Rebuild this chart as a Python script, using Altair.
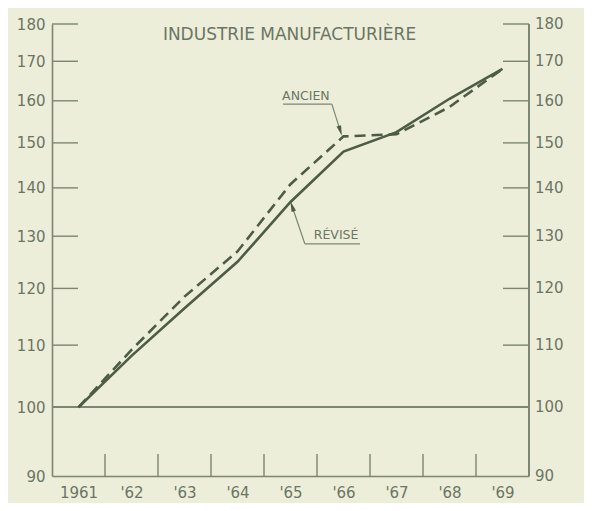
import altair as alt
import pandas as pd

# ---- data ----
years = [1961, 1962, 1963, 1964, 1965, 1966, 1967, 1968, 1969]
revise = [100.0, 108.2, 116.4, 125.0, 137.0, 148.0, 152.5, 160.5, 168.0]
ancien = [100.0, 109.2, 118.5, 127.0, 140.8, 151.5, 152.0, 158.5, 168.0]
year_labels = ["1961", "'62", "'63", "'64", "'65", "'66", "'67", "'68", "'69"]

y_ticks = [90, 100, 110, 120, 130, 140, 150, 160, 170, 180]
inner_ticks = [110, 120, 130, 140, 150, 160, 170, 180]
x_bounds = [1961.5, 1962.5, 1963.5, 1964.5, 1965.5, 1966.5, 1967.5, 1968.5]

title_text = ["INDUSTRIE MANUFACTURIÈRE"]

# annotations (data coordinates)
ann_text = ["ANCIEN", "RÉVISÉ"]
ann_x = [1965.29, 1965.86]
ann_y = [160.3, 129.4]
ul_x1 = [1964.86, 1965.27]
ul_x2 = [1965.78, 1966.31]
ul_y = [159.2, 128.5]
ld_x2 = [1965.94, 1965.03]
ld_y2 = [152.8, 136.1]
arrow_angle = [343, 161]

# ---- styling ----
BG = "#ECEEDA"
INK = "#4E5B45"
AXC = "#7C8672"
TXT = "#6C7563"
FONT = "DejaVu Sans"
W, H = 477, 452

xscale = alt.Scale(domain=[1960.5, 1969.5], nice=False, zero=False)
yscale = alt.Scale(type="log", domain=[90, 180], nice=False)

label_map = "{" + ",".join(f"'{y}': \"{l}\"" for y, l in zip(years, year_labels)) + "}"
xaxis = alt.Axis(values=years, title=None, ticks=False, grid=False,
                 domainColor=AXC, domainWidth=1.6,
                 labelExpr=f"{label_map}[toString(datum.value)]",
                 labelFont=FONT, labelFontSize=15, labelColor=TXT,
                 labelPadding=9, labelBaseline="top")
yaxis = alt.Axis(values=y_ticks, title=None, ticks=False, grid=False,
                 domainColor=AXC, domainWidth=1.6,
                 labelFont=FONT, labelFontSize=15, labelColor=TXT,
                 labelPadding=7, format="d")


def X(f):
    return alt.X(f, type="quantitative", scale=xscale, axis=xaxis)


def X2(f):
    return alt.X2(f)


def Y(f):
    return alt.Y(f, type="quantitative", scale=yscale, axis=yaxis)


df_rev = pd.DataFrame({"year": years, "value": revise})
df_anc = pd.DataFrame({"year": years, "value": ancien})
df_yt = pd.DataFrame({"v": y_ticks})
df_inner = pd.DataFrame({"v": inner_ticks})
df_xb = pd.DataFrame({"xb": x_bounds})
df_title = pd.DataFrame({"t": title_text})
df_ann = pd.DataFrame({"t": ann_text, "x": ann_x, "y": ann_y,
                       "ux1": ul_x1, "ux2": ul_x2, "uy": ul_y,
                       "lx2": ld_x2, "ly2": ld_y2, "ang": arrow_angle})

baseline = alt.Chart(df_rev).mark_rule(color=AXC, strokeWidth=1.6).encode(
    y=alt.datum(100, scale=yscale, axis=yaxis))

left_ticks = alt.Chart(df_inner).mark_rule(color=AXC, strokeWidth=1.4).encode(
    y=Y("v"), x=alt.value(0), x2=alt.value(26))
right_ticks = alt.Chart(df_inner).mark_rule(color=AXC, strokeWidth=1.4).encode(
    y=Y("v"), x=alt.value(W - 26), x2=alt.value(W))
right_line = alt.Chart(df_inner).mark_rule(color=AXC, strokeWidth=1.6).encode(
    x=alt.value(W), y=alt.value(0), y2=alt.value(H))
right_labels = alt.Chart(df_yt).mark_text(
    align="left", baseline="middle", font=FONT, fontSize=15, color=TXT
).encode(y=Y("v"), x=alt.value(W + 6), text=alt.Text("v:Q", format="d"))
bottom_ticks = alt.Chart(df_xb).mark_rule(color=AXC, strokeWidth=1.4).encode(
    x=X("xb"), y=alt.value(H), y2=alt.value(H - 22))

line_rev = alt.Chart(df_rev).mark_line(color=INK, strokeWidth=2.6).encode(
    x=X("year"), y=Y("value"))
line_anc = alt.Chart(df_anc).mark_line(color=INK, strokeWidth=2.6,
                                       strokeDash=[11, 6]).encode(
    x=X("year"), y=Y("value"))

title = alt.Chart(df_title).mark_text(
    align="center", baseline="top", font=FONT, fontSize=17, color=TXT
).encode(x=alt.value(W / 2 - 1), y=alt.value(3), text="t:N")

ann_txt = alt.Chart(df_ann).mark_text(
    align="center", baseline="alphabetic", font=FONT, fontSize=12.5, color=TXT
).encode(x=X("x"), y=Y("y"), text="t:N")
ann_ul = alt.Chart(df_ann).mark_rule(color=AXC, strokeWidth=1.2).encode(
    x=X("ux1"), x2=X2("ux2"), y=Y("uy"))
ann_ld1 = alt.Chart(df_ann.iloc[[0]]).mark_rule(color=AXC, strokeWidth=1.2).encode(
    x=X("ux2"), y=Y("uy"), x2=X2("lx2"), y2=alt.Y2("ly2"))
ann_ld2 = alt.Chart(df_ann.iloc[[1]]).mark_rule(color=AXC, strokeWidth=1.2).encode(
    x=X("ux1"), y=Y("uy"), x2=X2("lx2"), y2=alt.Y2("ly2"))
ann_head = alt.Chart(df_ann).mark_point(
    shape="M0,1L-0.45,-1L0.45,-1Z", filled=True, color=INK, opacity=1, size=110
).encode(x=X("lx2"), y=Y("ly2"), angle=alt.Angle("ang:Q", scale=None))

chart = alt.layer(
    baseline, left_ticks, right_ticks, right_line, right_labels, bottom_ticks,
    line_rev, line_anc, title, ann_txt, ann_ul, ann_ld1, ann_ld2, ann_head
).properties(
    width=W, height=H,
    padding={"left": 44, "top": 16, "right": 55, "bottom": 27},
    autosize=alt.AutoSizeParams(type="none"),
).configure(background=BG).configure_view(stroke=None)

chart.save("out.html", embed_options={"renderer": "svg", "actions": False})
